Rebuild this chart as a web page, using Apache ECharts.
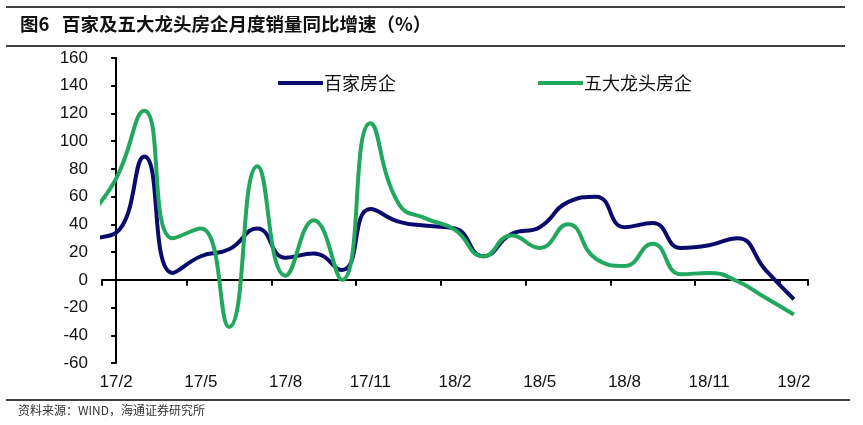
<!DOCTYPE html>
<html>
<head>
<meta charset="utf-8">
<script src="https://cdn.jsdelivr.net/npm/echarts@6/dist/echarts.min.js"></script>
<style>
  html, body { margin: 0; padding: 0; background: #fff; }
  #bar { width: 863px; height: 425px; }
</style>
</head>
<body>
<div id="bar" class="echart"></div>
<script>
// months from 17/1 (first point sits just left of the plot, Excel-style)
var months = ["17/1", "17/2", "17/3", "17/4", "17/5", "17/6", "17/7", "17/8", "17/9", "17/10", "17/11", "17/12",
  "18/1", "18/2", "18/3", "18/4", "18/5", "18/6", "18/7", "18/8", "18/9", "18/10", "18/11", "18/12",
  "19/1", "19/2"];
var baiJia = [30, 34, 89, 5, 17, 22, 37, 16, 19, 7, 51, 42,
  39, 37, 17, 33, 38, 56, 60, 38, 41, 23, 25, 30,
  7, -14];
var wuDa = [45, 73, 122, 30, 37, -34, 82, 3, 43, 0, 113, 55,
  44, 36, 17, 32, 23, 40, 15, 10, 26, 4, 5, -1,
  -13, -25];
var legendNames = ["百家房企", "五大龙头房企"];
var yMin = -60, yMax = 160, yStep = 20;

var axisCats = months.slice(1);
function toPoints(arr) {
  return arr.map(function (v, i) { return [i - 1, v]; });
}

var myChart = echarts.init(document.getElementById("bar"));
var numFont = "Liberation Sans, Arial, sans-serif";
var cjkFont = "Noto Sans CJK SC, sans-serif";

var option = {
  backgroundColor: "#fff",
  animation: false,
  grid: {
    left: 102,
    right: 55,
    top: 58,
    bottom: 62,
    outerBoundsMode: "none",
    containLabel: false,
  },
  legend: {
    data: legendNames,
    left: 273,
    top: 69,
    itemWidth: 45,
    itemHeight: 4,
    itemGap: 142,
    icon: "rect",
    textStyle: {
      fontFamily: cjkFont,
      fontSize: 18,
      color: "#111",
      padding: [0, 0, 0, -4],
    },
  },
  xAxis: [
    {
      type: "category",
      data: axisCats,
      boundaryGap: true,
      axisLine: {
        onZero: true,
        lineStyle: { color: "#000", width: 2 },
      },
      axisTick: {
        show: true,
        interval: 2,
        inside: false,
        length: 6,
        lineStyle: { color: "#000", width: 2 },
      },
      axisLabel: {
        interval: 2,
        margin: 11,
        color: "#111",
        fontFamily: numFont,
        fontSize: 17,
      },
      splitLine: { show: false },
    },
    {
      // hidden numeric axis so the line can enter from the left edge
      type: "value",
      min: -0.5,
      max: axisCats.length - 0.5,
      show: false,
    },
  ],
  yAxis: {
    type: "value",
    min: yMin,
    max: yMax,
    interval: yStep,
    axisLine: {
      show: true,
      lineStyle: { color: "#000", width: 2 },
    },
    axisTick: {
      show: true,
      length: 5,
      lineStyle: { color: "#000", width: 2 },
    },
    axisLabel: {
      margin: 14,
      color: "#111",
      fontFamily: numFont,
      fontSize: 17,
    },
    splitLine: { show: false },
  },
  series: [
    {
      name: legendNames[0],
      type: "line",
      xAxisIndex: 1,
      data: toPoints(baiJia),
      smooth: 0.5,
      showSymbol: false,
      clip: true,
      color: "#0b0b6e",
      lineStyle: { width: 4, color: "#0b0b6e" },
    },
    {
      name: legendNames[1],
      type: "line",
      xAxisIndex: 1,
      data: toPoints(wuDa),
      smooth: 0.5,
      showSymbol: false,
      clip: true,
      color: "#22a85e",
      lineStyle: { width: 4, color: "#22a85e" },
    },
  ],
  graphic: [
    { type: "line", shape: { x1: 6, y1: 7, x2: 845, y2: 7 }, style: { stroke: "#000", lineWidth: 1.5 } },
    {
      type: "text",
      left: 20,
      top: 15,
      style: {
        text: "图6   百家及五大龙头房企月度销量同比增速（%）",
        fontFamily: cjkFont,
        fontSize: 18.5,
        fontWeight: "bold",
        fill: "#111",
      },
    },
    { type: "line", shape: { x1: 6, y1: 46, x2: 845, y2: 46 }, style: { stroke: "#000", lineWidth: 1.5 } },
    { type: "line", shape: { x1: 6, y1: 400, x2: 850, y2: 400 }, style: { stroke: "#000", lineWidth: 1.5 } },
    {
      type: "text",
      left: 18,
      top: 404,
      style: {
        text: "资料来源：WIND，海通证券研究所",
        fontFamily: cjkFont,
        fontSize: 12,
        fill: "#333",
      },
    },
  ],
};
myChart.setOption(option);
window.addEventListener("resize", function () {
  myChart.resize();
});
</script>
</body>
</html>
